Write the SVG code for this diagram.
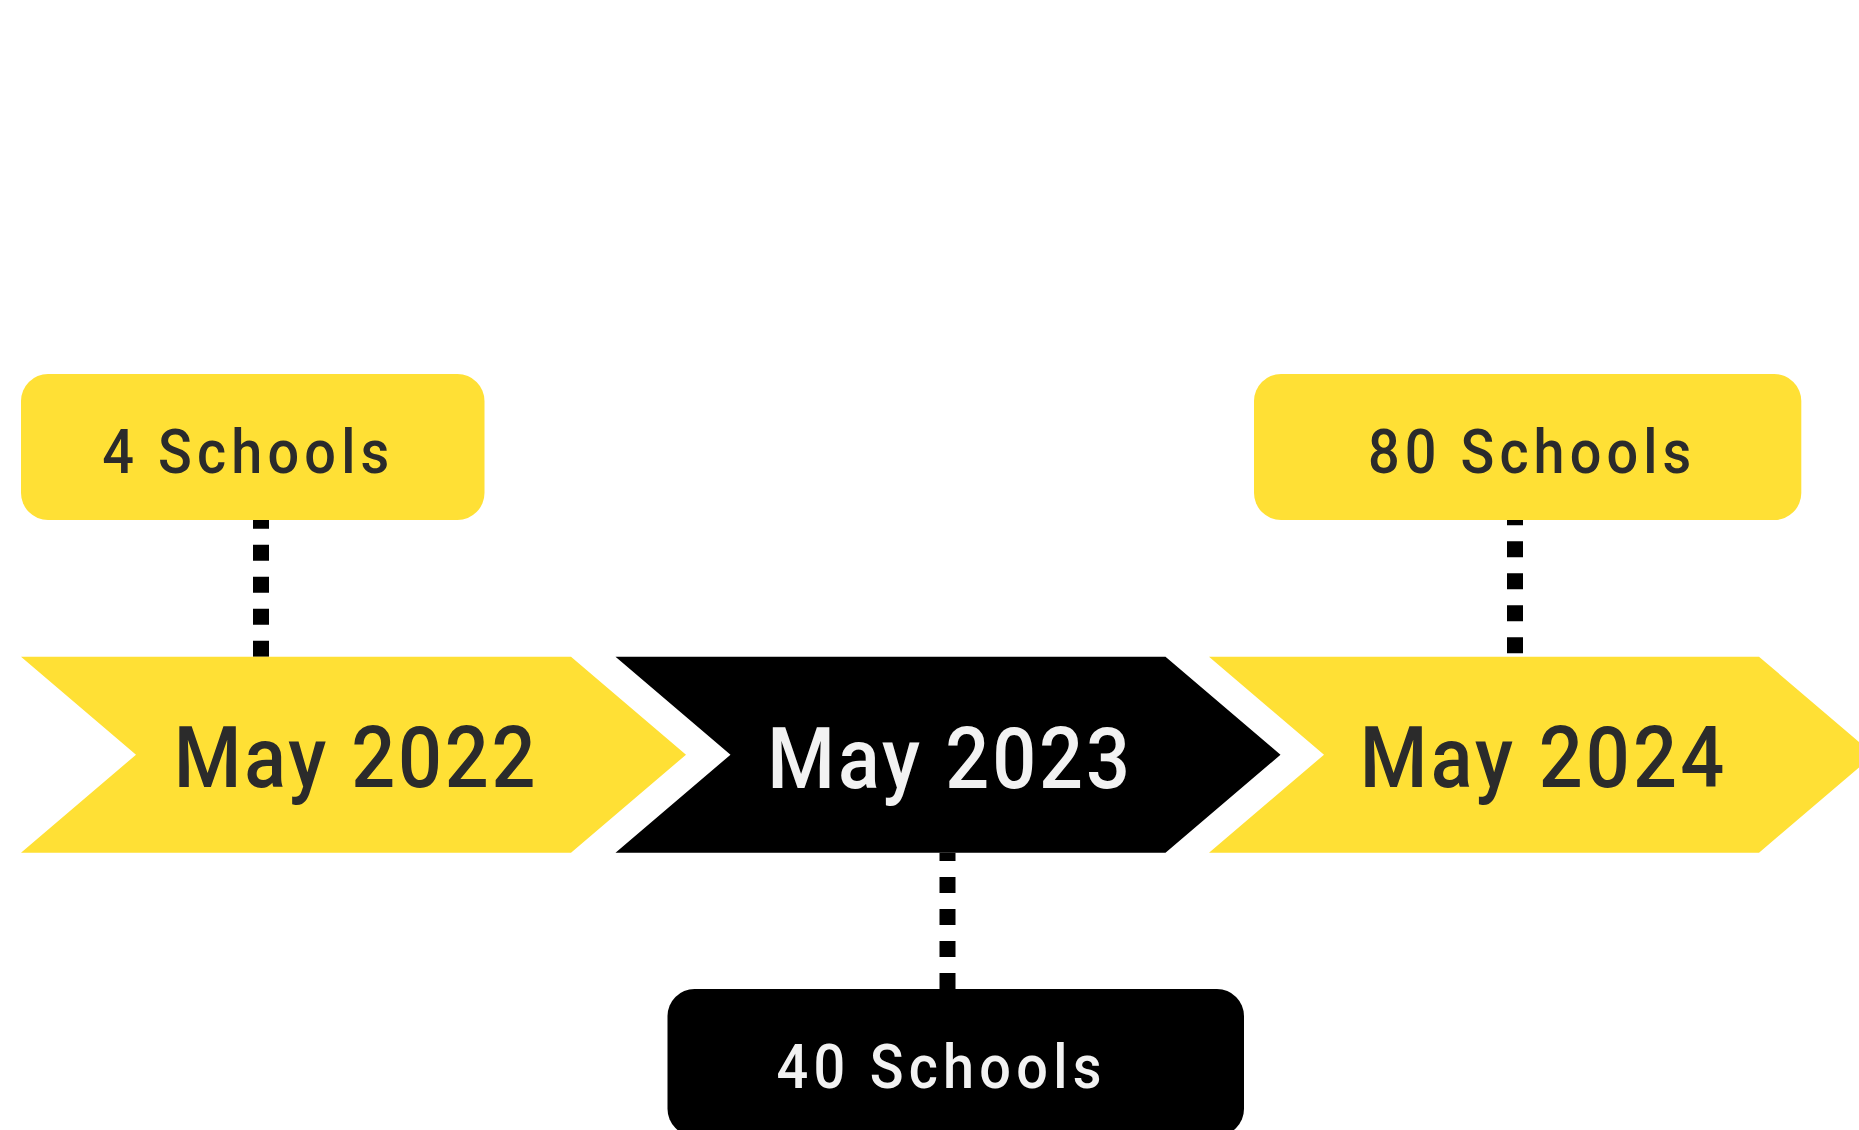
<svg xmlns="http://www.w3.org/2000/svg" width="1859" height="1130" viewBox="0 0 1859 1130">
  <style>
    .yellow { fill: #FFE035; }
    .black { fill: #000000; }
    .lbl { font-family: Roboto, "Liberation Sans", sans-serif; font-weight: 500; text-anchor: middle; }
    .big { font-size: 86px; }
    .small { font-size: 62px; }
    .dark { fill: #2B2B2B; }
    .light { fill: #F2F2F2; }
    .conn { stroke: #000000; stroke-width: 16; stroke-dasharray: 16 16; fill: none; }
  </style>
  <defs>
    <polygon id="chev" points="0,0 550,0 665,98 550,196 0,196 115,98"/>
  </defs>
  <rect x="0" y="0" width="1859" height="1130" fill="#FFFFFF"/>

  <g id="connectors">
    <line class="conn" x1="261" y1="656.7" x2="261" y2="519"/>
    <line class="conn" x1="947.5" y1="989" x2="947.5" y2="852.7"/>
    <line class="conn" x1="1515" y1="653.3" x2="1515" y2="519"/>
  </g>

  <g id="may2022">
    <use href="#chev" class="yellow" x="21" y="656.7"/>
    <text class="lbl big dark" transform="translate(354.7,787.3) scale(0.9,1)" x="0" y="0" textLength="402" lengthAdjust="spacing">May 2022</text>
  </g>
  <g id="may2023">
    <use href="#chev" class="black" x="615.5" y="656.7"/>
    <text class="lbl big light" transform="translate(948.7,787.5) scale(0.9,1)" x="0" y="0" textLength="403" lengthAdjust="spacing">May 2023</text>
  </g>
  <g id="may2024">
    <use href="#chev" class="yellow" x="1209" y="656.7"/>
    <text class="lbl big dark" transform="translate(1542,787.3) scale(0.9,1)" x="0" y="0" textLength="405" lengthAdjust="spacing">May 2024</text>
  </g>

  <g id="schools4">
    <rect class="yellow" x="21" y="374" width="463.5" height="146" rx="27" ry="27"/>
    <text class="lbl small dark" transform="translate(245.7,472.7) scale(0.9,1)" x="0" y="0" textLength="319" lengthAdjust="spacing">4 Schools</text>
  </g>
  <g id="schools40">
    <rect class="black" x="667.5" y="989" width="576.5" height="147" rx="27" ry="27"/>
    <text class="lbl small light" transform="translate(939,1088.3) scale(0.9,1)" x="0" y="0" textLength="361" lengthAdjust="spacing">40 Schools</text>
  </g>
  <g id="schools80">
    <rect class="yellow" x="1254" y="374" width="547.3" height="146" rx="27" ry="27"/>
    <text class="lbl small dark" transform="translate(1529.6,472.7) scale(0.9,1)" x="0" y="0" textLength="359" lengthAdjust="spacing">80 Schools</text>
  </g>
</svg>
